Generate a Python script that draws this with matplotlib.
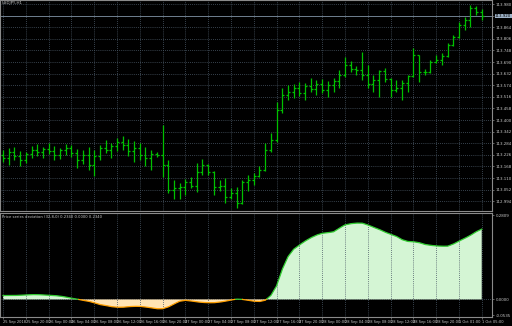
import numpy as np
import matplotlib.pyplot as plt

plt.rcParams['font.family'] = 'DejaVu Sans'

symbol = "USDJPY,H1"
indicator_name = "Price series deviation (32,8,0)"

# hourly OHLC, 25 Sep 16:00 .. 1 Oct 05:00
opens = [113.225, 113.210, 113.240, 113.220, 113.200, 113.230, 113.250, 113.240, 113.255, 113.245,
         113.225, 113.250, 113.260, 113.235, 113.200, 113.225, 113.175, 113.220, 113.260, 113.250,
         113.270, 113.290, 113.275, 113.245, 113.260, 113.225, 113.210, 113.230, 113.225, 113.175,
         113.050, 113.060, 113.065, 113.090, 113.070, 113.140, 113.175, 113.140, 113.065, 113.070,
         113.015, 113.035, 112.985, 113.090, 113.100, 113.120, 113.150, 113.250, 113.300, 113.450,
         113.525, 113.540, 113.560, 113.535, 113.570, 113.555, 113.580, 113.550, 113.575, 113.595,
         113.625, 113.675, 113.655, 113.650, 113.625, 113.580, 113.600, 113.645, 113.605, 113.550,
         113.560, 113.585, 113.620, 113.725, 113.640, 113.640, 113.690, 113.700, 113.720, 113.775,
         113.815, 113.875, 113.900, 113.960, 113.940]
highs = [113.250, 113.260, 113.265, 113.245, 113.240, 113.270, 113.280, 113.265, 113.285, 113.270,
         113.260, 113.280, 113.275, 113.255, 113.250, 113.265, 113.250, 113.275, 113.300, 113.285,
         113.310, 113.320, 113.305, 113.295, 113.285, 113.265, 113.250, 113.240, 113.375, 113.200,
         113.100, 113.085, 113.105, 113.115, 113.185, 113.205, 113.180, 113.145, 113.100, 113.110,
         113.060, 113.065, 113.100, 113.125, 113.135, 113.170, 113.285, 113.335, 113.490, 113.560,
         113.575, 113.580, 113.590, 113.585, 113.610, 113.600, 113.605, 113.595, 113.610, 113.650,
         113.715, 113.695, 113.670, 113.740, 113.675, 113.625, 113.650, 113.660, 113.610, 113.600,
         113.600, 113.625, 113.760, 113.725, 113.655, 113.700, 113.725, 113.735, 113.785, 113.825,
         113.890, 113.915, 113.975, 113.970, 113.955]
lows = [113.190, 113.175, 113.200, 113.170, 113.185, 113.210, 113.220, 113.210, 113.230, 113.200,
        113.205, 113.225, 113.215, 113.160, 113.180, 113.150, 113.120, 113.200, 113.235, 113.210,
        113.245, 113.250, 113.220, 113.190, 113.200, 113.170, 113.150, 113.215, 113.115, 113.035,
        113.005, 113.005, 113.025, 113.060, 113.040, 113.125, 113.125, 113.025, 113.045, 112.985,
        113.005, 112.960, 112.980, 113.045, 113.075, 113.115, 113.145, 113.240, 113.290, 113.435,
        113.500, 113.510, 113.520, 113.500, 113.540, 113.525, 113.535, 113.515, 113.540, 113.560,
        113.615, 113.640, 113.625, 113.600, 113.560, 113.540, 113.515, 113.590, 113.515, 113.540,
        113.500, 113.540, 113.615, 113.590, 113.625, 113.635, 113.685, 113.675, 113.715, 113.770,
        113.810, 113.850, 113.865, 113.925, 113.900]
closes = [113.210, 113.240, 113.220, 113.200, 113.230, 113.250, 113.240, 113.255, 113.245, 113.225,
          113.250, 113.260, 113.235, 113.200, 113.225, 113.175, 113.220, 113.260, 113.250, 113.270,
          113.290, 113.275, 113.245, 113.260, 113.225, 113.210, 113.230, 113.225, 113.175, 113.050,
          113.060, 113.065, 113.090, 113.070, 113.140, 113.175, 113.140, 113.065, 113.070, 113.015,
          113.035, 112.985, 113.090, 113.100, 113.120, 113.150, 113.250, 113.300, 113.450, 113.525,
          113.540, 113.560, 113.535, 113.570, 113.555, 113.580, 113.550, 113.575, 113.595, 113.625,
          113.675, 113.655, 113.650, 113.625, 113.580, 113.600, 113.645, 113.605, 113.550, 113.560,
          113.585, 113.620, 113.725, 113.640, 113.640, 113.690, 113.700, 113.720, 113.775, 113.815,
          113.875, 113.900, 113.960, 113.940, 113.920]

deviation = [0.013, 0.013, 0.013, 0.014, 0.015, 0.016, 0.016, 0.015, 0.014, 0.013,
             0.011, 0.008, 0.004, 0.001, -0.003, -0.006, -0.011, -0.017, -0.020, -0.024,
             -0.026, -0.026, -0.024, -0.023, -0.023, -0.025, -0.028, -0.031, -0.031, -0.025,
             -0.015, -0.006, -0.003, -0.005, -0.008, -0.010, -0.011, -0.011, -0.009, -0.006,
             -0.002, 0.001, 0.000, -0.003, -0.006, -0.007, -0.003, 0.013, 0.045, 0.100,
             0.142, 0.167, 0.181, 0.194, 0.205, 0.214, 0.220, 0.222, 0.225, 0.237,
             0.248, 0.252, 0.254, 0.254, 0.248, 0.240, 0.233, 0.224, 0.217, 0.210,
             0.199, 0.193, 0.192, 0.189, 0.183, 0.180, 0.178, 0.177, 0.177, 0.184,
             0.194, 0.203, 0.213, 0.225, 0.234]

time_labels = ["25 Sep 2018", "25 Sep 20:00", "26 Sep 00:00", "26 Sep 04:00", "26 Sep 08:00",
               "26 Sep 12:00", "26 Sep 16:00", "26 Sep 20:00", "27 Sep 00:00", "27 Sep 04:00",
               "27 Sep 08:00", "27 Sep 12:00", "27 Sep 16:00", "27 Sep 20:00", "28 Sep 00:00",
               "28 Sep 04:00", "28 Sep 08:00", "28 Sep 12:00", "28 Sep 16:00", "28 Sep 20:00",
               "1 Oct 01:00", "1 Oct 05:00"]
price_ticks = [113.980, 113.922, 113.864, 113.806, 113.748, 113.690, 113.632, 113.574, 113.516,
               113.458, 113.400, 113.342, 113.284, 113.226, 113.168, 113.110, 113.052, 112.994]
dev_ticks = [0.2809, 0.0, -0.0535]
bid = 113.920

txt = '#c8c8c8'
grid_c = '#4a5866'
frame_c = '#8a8a8a'
bar_c = '#00c000'
fs = 2.9

x = np.arange(len(opens))
dev = np.array(deviation)

fig = plt.figure(figsize=(5.12, 3.26), dpi=100, facecolor='black')
ax = fig.add_axes([0, 115/326, 492/512, 211/326], facecolor='black')
ax2 = fig.add_axes([0, 9/326, 492/512, 104/326], facecolor='black')

# price panel
ax.vlines(x, lows, highs, color=bar_c, lw=0.9, zorder=3)
ax.hlines(opens, x - 0.35, x, color=bar_c, lw=0.9, zorder=3)
ax.hlines(closes, x, x + 0.35, color=bar_c, lw=0.9, zorder=3)
ax.axhline(bid, color='#6f7f8f', lw=0.7, zorder=2)

ax.set_xlim(-0.53, 85.8)
ax.set_ylim(112.945, 114.0)
ax.set_xticks(range(0, len(opens), 4))
ax.set_yticks(price_ticks)
ax.yaxis.tick_right()
ax.set_yticklabels([f"{p:.3f}" for p in price_ticks])
ax.tick_params(axis='y', colors=frame_c, labelcolor=txt, labelsize=fs, length=1.5, width=0.5, pad=1)
ax.tick_params(axis='x', length=0, labelbottom=False)
ax.grid(True, color=grid_c, lw=0.6, linestyle=(0, (1, 1.5)))
ax.set_axisbelow(True)
for s in ax.spines.values():
    s.set_color(frame_c)
    s.set_linewidth(0.8)

ax.text(0.004, 0.997, symbol, transform=ax.transAxes, color=txt, fontsize=fs, va='top', ha='left')
ax.text(1.006, bid, f"{bid:.3f}", transform=ax.get_yaxis_transform(), color='black',
        fontsize=fs, va='center', ha='left',
        bbox=dict(boxstyle='square,pad=0.1', fc='#9fb3c8', ec='none'))

# deviation panel
xf = np.linspace(0, len(dev) - 1, 1200)
df = np.interp(xf, x, dev)
ax2.axhline(0, color=grid_c, lw=0.6, linestyle=(0, (1, 1.5)), zorder=0.5)
ax2.fill_between(xf, df, 0, where=df >= 0, color='#d4f5d4', lw=0, zorder=1)
ax2.fill_between(xf, df, 0, where=df <= 0, color='#ffe4b5', lw=0, zorder=1)
ax2.plot(xf, np.ma.masked_where(df < 0, df), color='#32cd32', lw=0.9, zorder=3)
ax2.plot(xf, np.ma.masked_where(df > 0, df), color='#ff9f00', lw=0.9, zorder=3)

ax2.set_xlim(-0.53, 85.8)
ax2.set_ylim(-0.0585, 0.2876)
ax2.set_xticks(range(0, len(opens), 4))
ax2.set_xticklabels(time_labels, ha='left')
ax2.set_yticks(dev_ticks)
ax2.yaxis.tick_right()
ax2.set_yticklabels([f"{v:.4f}" for v in dev_ticks])
ax2.tick_params(axis='y', colors=frame_c, labelcolor=txt, labelsize=fs, length=1.5, width=0.5, pad=1)
ax2.tick_params(axis='x', colors=frame_c, labelcolor=txt, labelsize=2.6, length=1.5, width=0.5, pad=1)
ax2.grid(True, axis='x', color=grid_c, lw=0.6, linestyle=(0, (1, 1.5)), zorder=2.5)
ax2.set_axisbelow(False)
for s in ax2.spines.values():
    s.set_color(frame_c)
    s.set_linewidth(0.8)

ax2.text(0.004, 0.985, f"{indicator_name} {dev[-1]:.4f} 0.0000 {dev[-1]:.4f}",
         transform=ax2.transAxes, color=txt, fontsize=2.7, va='top', ha='left')

fig.savefig('out.png', dpi=100, facecolor='black')
